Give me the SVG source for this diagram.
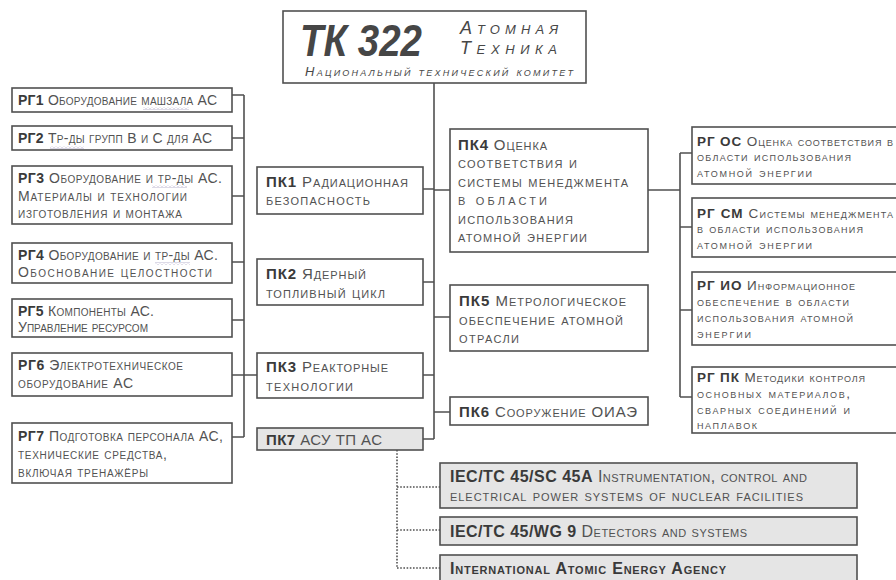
<svg xmlns="http://www.w3.org/2000/svg" width="896" height="580" viewBox="0 0 896 580">
<defs>
<pattern id="wave" width="4" height="3" patternUnits="userSpaceOnUse"><path d="M0 2.5L2 0.5L4 2.5" fill="none" stroke="#aaa3c4" stroke-width="0.8"/></pattern>
</defs>
<style>
.box{fill:#fff;stroke:#505050;stroke-width:1.6}
.gbox{fill:#e5e5e5;stroke:#505050;stroke-width:1.6}
.ln{stroke:#505050;stroke-width:1.6;fill:none}
.dot{stroke:#505050;stroke-width:1.6;fill:none;stroke-dasharray:1.6 1.6}
.t{font-family:"Liberation Sans",Arial,sans-serif;font-size:14px;fill:#525252;font-variant:small-caps}
.m{font-size:15px}
.s{font-size:13.5px}
.e{font-size:16px}
.b{font-weight:bold;fill:#3a3a3a;font-variant:normal}
.bs{font-weight:bold;fill:#3a3a3a}
.ti{font-family:"Liberation Sans",Arial,sans-serif;font-style:italic;fill:#474747;font-variant:small-caps}
</style>
<rect width="896" height="580" fill="#fff"/>
<g id="connectors">
<path class="ln" d="M434 83V439"/>
<path class="ln" d="M232 95H244M232 138H244M232 196H244M232 262H244M232 320H244M232 375H257M232 437H244M244 95V437"/>
<path class="ln" d="M423 189H434M423 282H434M423 375H434M423 439H434"/>
<path class="ln" d="M434 190H450M434 317H450M434 412H450"/>
<path class="ln" d="M648 190H680M680 153V397M680 153H692M680 227H692M680 310H692M680 397H692"/>
<path class="dot" d="M397 450V568M397 487H440M397 530H440M397 568H440"/>
</g>
<g id="title">
<rect class="box" x="283" y="11" width="303" height="72"/>
<text x="300" y="56" font-family="Liberation Sans,Arial,sans-serif" font-size="45" font-weight="bold" font-style="italic" fill="#464646" textLength="122" lengthAdjust="spacingAndGlyphs">ТК 322</text>
<text class="ti" x="460" y="34" font-size="18" textLength="98" lengthAdjust="spacing">Атомная</text>
<text class="ti" x="460" y="54" font-size="18" textLength="97" lengthAdjust="spacing">Техника</text>
<text class="ti" x="305" y="76" font-size="13" textLength="268" lengthAdjust="spacing">Национальный технический комитет</text>
</g>
<g id="rg1"><rect class="box" x="12" y="88" width="220" height="24"/><text class="t" x="18" y="105" textLength="199"><tspan class="b">РГ1</tspan> Оборудование машзала АС</text></g>
<g id="rg2"><rect class="box" x="12" y="126" width="220" height="24"/><text class="t" x="18" y="143" textLength="194"><tspan class="b">РГ2</tspan> Тр-ды групп В и С для АС</text></g>
<g id="rg3"><rect class="box" x="12" y="166" width="220" height="58"/><text class="t" x="18" y="183" textLength="204"><tspan class="b">РГ3</tspan> Оборудование и тр-ды АС.</text><text class="t" x="18" y="201" textLength="169">Материалы и технологии</text><text class="t" x="18" y="218" textLength="164">изготовления и монтажа</text></g>
<g id="rg4"><rect class="box" x="12" y="243" width="220" height="40"/><text class="t" x="18" y="260" textLength="200"><tspan class="b">РГ4</tspan> Оборудование и тр-ды АС.</text><text class="t" x="18" y="277" textLength="194">Обоснование целостности</text></g>
<g id="rg5"><rect class="box" x="12" y="299" width="220" height="38"/><text class="t" x="18" y="316" textLength="136"><tspan class="b">РГ5</tspan> Компоненты АС.</text><text class="t" x="18" y="332" textLength="130">Управление ресурсом</text></g>
<g id="rg6"><rect class="box" x="12" y="353" width="220" height="43"/><text class="t" x="18" y="370" textLength="165"><tspan class="b">РГ6</tspan> Электротехническое</text><text class="t" x="18" y="388" textLength="115">оборудование АС</text></g>
<g id="rg7"><rect class="box" x="12" y="423" width="220" height="60"/><text class="t" x="18" y="441" textLength="205"><tspan class="b">РГ7</tspan> Подготовка персонала АС,</text><text class="t" x="18" y="459" textLength="149">технические средства,</text><text class="t" x="18" y="477" textLength="130">включая тренажёры</text></g>
<g id="pk1"><rect class="box" x="257" y="167" width="166" height="47"/><text class="t m" x="266" y="187" textLength="142"><tspan class="b">ПК1</tspan> Радиационная</text><text class="t m" x="266" y="205" textLength="104">безопасность</text></g>
<g id="pk2"><rect class="box" x="257" y="259" width="166" height="46"/><text class="t m" x="266" y="279" textLength="100"><tspan class="b">ПК2</tspan> Ядерный</text><text class="t m" x="266" y="298" textLength="119">топливный цикл</text></g>
<g id="pk3"><rect class="box" x="257" y="353" width="166" height="45"/><text class="t m" x="266" y="372" textLength="122"><tspan class="b">ПК3</tspan> Реакторные</text><text class="t m" x="266" y="391" textLength="87">технологии</text></g>
<g id="pk7"><rect class="gbox" x="257" y="428" width="166" height="22"/><text class="t m" x="266" y="445" textLength="116"><tspan class="b">ПК7</tspan> АСУ ТП АС</text></g>
<g id="pk4"><rect class="box" x="450" y="129" width="198" height="123"/><text class="t m" x="458" y="150" textLength="89"><tspan class="b">ПК4</tspan> Оценка</text><text class="t m" x="458" y="168" textLength="119">соответствия и</text><text class="t m" x="458" y="187" textLength="170">системы менеджмента</text><text class="t m" x="458" y="205" textLength="89">в области</text><text class="t m" x="458" y="224" textLength="115">использования</text><text class="t m" x="458" y="242" textLength="129">атомной энергии</text></g>
<g id="pk5"><rect class="box" x="450" y="285" width="198" height="66"/><text class="t m" x="459" y="306" textLength="167"><tspan class="b">ПК5</tspan> Метрологическое</text><text class="t m" x="459" y="325" textLength="164">обеспечение атомной</text><text class="t m" x="459" y="343" textLength="60">отрасли</text></g>
<g id="pk6"><rect class="box" x="450" y="397" width="198" height="28"/><text class="t m" x="459" y="417" textLength="178"><tspan class="b">ПК6</tspan> Сооружение ОИАЭ</text></g>
<g id="rgos"><rect class="box" x="692" y="127" width="220" height="57"/><text class="t s" x="697" y="146" textLength="196"><tspan class="b">РГ ОС</tspan> Оценка соответствия в</text><text class="t s" x="697" y="161" textLength="154">области использования</text><text class="t s" x="697" y="177" textLength="115">атомной энергии</text></g>
<g id="rgsm"><rect class="box" x="692" y="198" width="220" height="59"/><text class="t s" x="697" y="218" textLength="196"><tspan class="b">РГ СМ</tspan> Системы менеджмента</text><text class="t s" x="697" y="233" textLength="166">в области использования</text><text class="t s" x="697" y="249" textLength="115">атомной энергии</text></g>
<g id="rgio"><rect class="box" x="692" y="272" width="220" height="73"/><text class="t s" x="697" y="290" textLength="158"><tspan class="b">РГ ИО</tspan> Информационное</text><text class="t s" x="697" y="306" textLength="152">обеспечение в области</text><text class="t s" x="697" y="322" textLength="156">использования атомной</text><text class="t s" x="697" y="338" textLength="54">энергии</text></g>
<g id="rgpk"><rect class="box" x="692" y="367" width="220" height="66"/><text class="t s" x="697" y="382" textLength="168"><tspan class="b">РГ ПК</tspan> Методики контроля</text><text class="t s" x="697" y="398" textLength="153">основных материалов,</text><text class="t s" x="697" y="414" textLength="153">сварных соединений и</text><text class="t s" x="697" y="429" textLength="60">наплавок</text></g>
<g id="iec45a"><rect class="gbox" x="440" y="463" width="417" height="45"/><text class="t e" x="450" y="482" textLength="357"><tspan class="b">IEC/TC 45/SC 45A</tspan> Instrumentation, control and</text><text class="t e" x="450" y="501" textLength="353">electrical power systems of nuclear facilities</text></g>
<g id="iecwg9"><rect class="gbox" x="440" y="517" width="417" height="28"/><text class="t e" x="450" y="537" textLength="297"><tspan class="b">IEC/TC 45/WG 9</tspan> Detectors and systems</text></g>
<g id="iaea"><rect class="gbox" x="440" y="555" width="417" height="40"/><text class="t e bs" x="450" y="574" textLength="276">International Atomic Energy Agency</text></g>
<g id="spellcheck">
<rect x="143" y="107" width="46" height="3" fill="url(#wave)"/>
<rect x="50" y="146" width="34" height="3" fill="url(#wave)"/>
<rect x="152" y="185" width="35" height="3" fill="url(#wave)"/>
<rect x="155" y="262" width="35" height="3" fill="url(#wave)"/>
</g>
</svg>
